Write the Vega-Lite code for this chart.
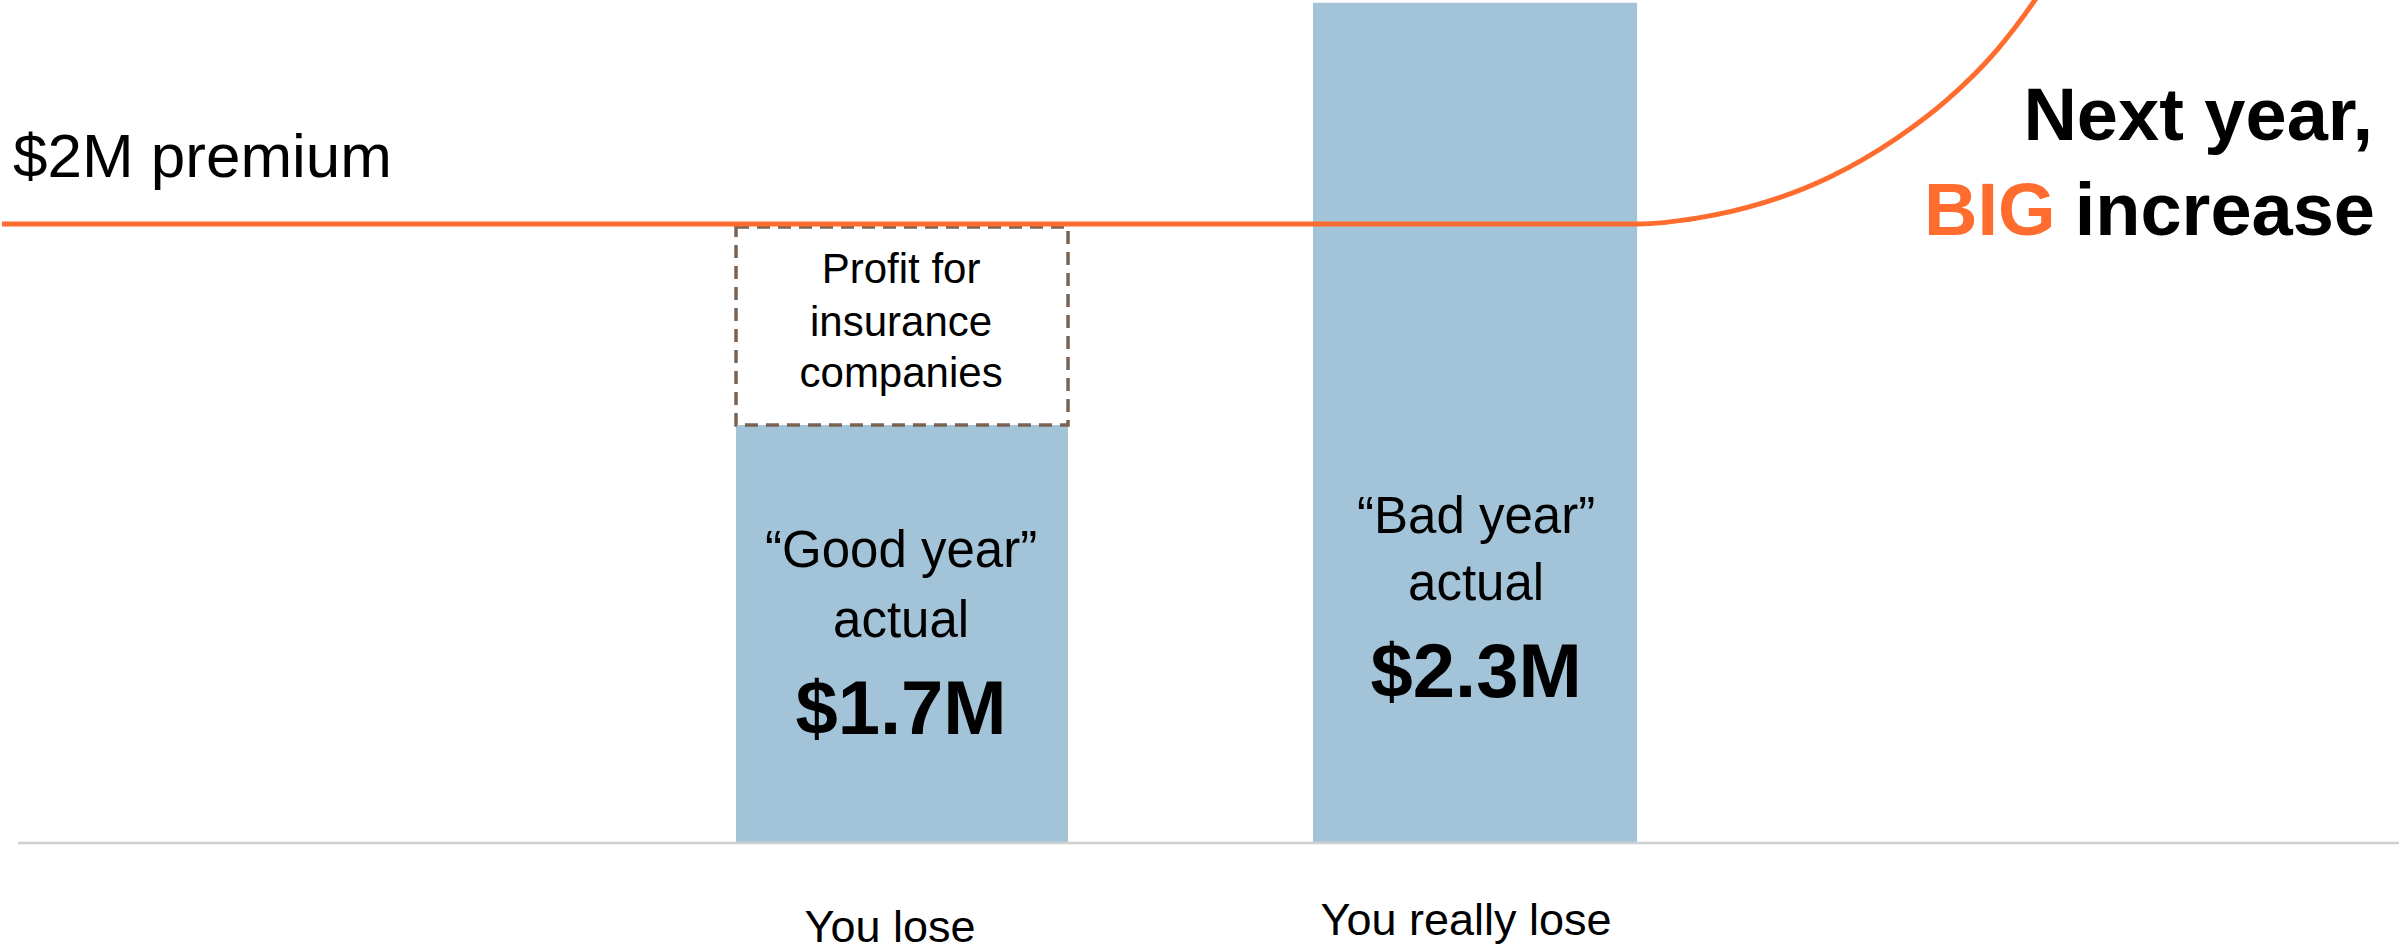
{
  "$schema": "https://vega.github.io/schema/vega-lite/v6.json",
  "width": 2399,
  "height": 952,
  "autosize": {"type": "none"},
  "padding": 0,
  "background": "white",
  "config": {"view": {"stroke": null}, "font": "Liberation Sans"},
  "encoding": {
    "x": {"field": "x", "type": "quantitative", "scale": {"domain": [0, 100], "nice": false, "zero": false}, "axis": null},
    "y": {"field": "y", "type": "quantitative", "scale": {"domain": [-0.3522, 2.7237], "nice": false, "zero": false}, "axis": null}
  },
  "layer": [
    {
      "data": {"values": [
        {"scenario": "Good year", "x": 30.68, "x2": 44.52, "y": 0, "y2": 1.3506},
        {"scenario": "Bad year", "x": 54.73, "x2": 68.24, "y": 0, "y2": 2.715}
      ]},
      "mark": {"type": "rect", "color": "#A3C4D8"},
      "encoding": {
        "x2": {"field": "x2"},
        "y2": {"field": "y2"}
      }
    },
    {
      "data": {"values": [
        {"x": 30.68, "x2": 44.52, "y": 1.3506, "y2": 1.99}
      ]},
      "mark": {"type": "rect", "fill": "white", "fillOpacity": 0, "stroke": "#7B6353", "strokeWidth": 3.5, "strokeDash": [13, 8]},
      "encoding": {
        "x2": {"field": "x2"},
        "y2": {"field": "y2"}
      }
    },
    {
      "data": {"values": [
        {"x": 0.75, "x2": 100, "y": 0}
      ]},
      "mark": {"type": "rule", "color": "#CFCFCF", "strokeWidth": 2.5},
      "encoding": {
        "x2": {"field": "x2"}
      }
    },
    {
      "data": {"values": [
        {"i": 1, "x": 0.08, "y": 2.0},
        {"i": 2, "x": 68.24, "y": 2.0},
        {"i": 3, "x": 70.74, "y": 2.019},
        {"i": 4, "x": 73.49, "y": 2.068},
        {"i": 5, "x": 76.28, "y": 2.152},
        {"i": 6, "x": 79.08, "y": 2.278},
        {"i": 7, "x": 81.16, "y": 2.401},
        {"i": 8, "x": 83.24, "y": 2.562},
        {"i": 9, "x": 84.83, "y": 2.724},
        {"i": 10, "x": 85.6, "y": 2.815}
      ]},
      "mark": {"type": "line", "color": "#FF6D2E", "strokeWidth": 5, "interpolate": "monotone", "clip": true},
      "encoding": {
        "order": {"field": "i", "type": "quantitative"}
      }
    },
    {
      "data": {"values": [
        {"label": "$2M premium", "x": 0.54, "y": 2.152}
      ]},
      "mark": {"type": "text", "align": "left", "baseline": "alphabetic", "fontSize": 62, "color": "black"},
      "encoding": {
        "text": {"field": "label"}
      }
    },
    {
      "data": {"values": [
        {"label": "Next year,", "x": 98.92, "y": 2.271},
        {"label": "increase", "x": 99.0, "y": 1.964}
      ]},
      "mark": {"type": "text", "align": "right", "baseline": "alphabetic", "fontSize": 74, "fontWeight": "bold", "color": "black"},
      "encoding": {
        "text": {"field": "label"}
      }
    },
    {
      "data": {"values": [
        {"label": "BIG", "x": 80.2, "y": 1.964}
      ]},
      "mark": {"type": "text", "align": "left", "baseline": "alphabetic", "fontSize": 74, "fontWeight": "bold", "color": "#FF6D2E"},
      "encoding": {
        "text": {"field": "label"}
      }
    },
    {
      "data": {"values": [
        {"label": "Profit for", "x": 37.56, "y": 1.809},
        {"label": "insurance", "x": 37.56, "y": 1.638},
        {"label": "companies", "x": 37.56, "y": 1.473}
      ]},
      "mark": {"type": "text", "align": "center", "baseline": "alphabetic", "fontSize": 42, "color": "black"},
      "encoding": {
        "text": {"field": "label"}
      }
    },
    {
      "data": {"values": [
        {"label": "“Good year”", "x": 37.56, "y": 0.892},
        {"label": "actual", "x": 37.56, "y": 0.666},
        {"label": "“Bad year”", "x": 61.53, "y": 1.002},
        {"label": "actual", "x": 61.53, "y": 0.785}
      ]},
      "mark": {"type": "text", "align": "center", "baseline": "alphabetic", "fontSize": 51, "color": "black"},
      "encoding": {
        "text": {"field": "label"}
      }
    },
    {
      "data": {"values": [
        {"label": "$1.7M", "x": 37.56, "y": 0.352},
        {"label": "$2.3M", "x": 61.53, "y": 0.472}
      ]},
      "mark": {"type": "text", "align": "center", "baseline": "alphabetic", "fontSize": 76, "fontWeight": "bold", "color": "black"},
      "encoding": {
        "text": {"field": "label"}
      }
    },
    {
      "data": {"values": [
        {"label": "You lose", "x": 37.1, "y": -0.32},
        {"label": "You really lose", "x": 61.11, "y": -0.297}
      ]},
      "mark": {"type": "text", "align": "center", "baseline": "alphabetic", "fontSize": 45, "color": "black"},
      "encoding": {
        "text": {"field": "label"}
      }
    }
  ]
}
